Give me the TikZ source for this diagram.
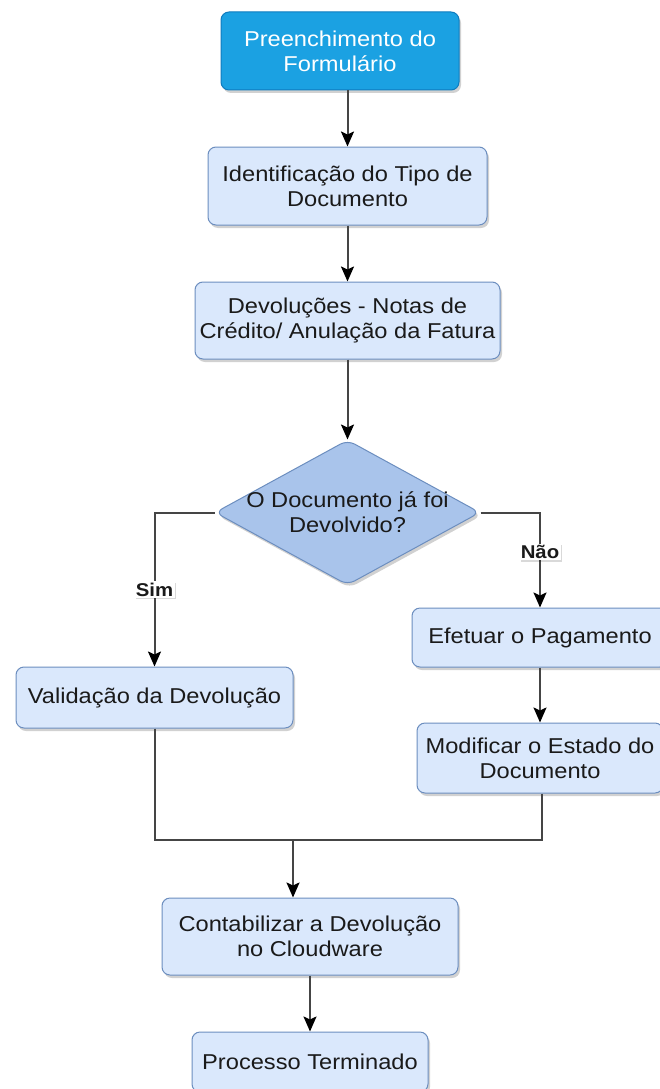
\documentclass[tikz,border=0pt]{standalone}
\usepackage{fontspec}
\setmainfont{Liberation Sans}[FakeStretch=1.1]
\usetikzlibrary{arrows.meta,shapes.geometric,shadows}
\definecolor{startfill}{HTML}{1BA1E2}
\definecolor{startdraw}{HTML}{0F7CBF}
\definecolor{boxfill}{HTML}{DAE8FC}
\definecolor{boxdraw}{HTML}{6C8EBF}
\definecolor{decfill}{HTML}{A9C4EB}
\definecolor{ink}{HTML}{1A1A1A}
\definecolor{wire}{HTML}{454545}
\begin{document}
\begin{tikzpicture}[x=1pt,y=-1pt,
  every node/.style={font=\fontsize{21.5}{25}\selectfont, text=ink},
  boxshadow/.style={drop shadow={shadow xshift=2pt,shadow yshift=-3pt,opacity=0.18,fill=black}},
  procbox/.style={draw=boxdraw, fill=boxfill, line width=1pt, rounded corners=8pt,
    align=center, inner sep=0pt, boxshadow},
  startbox/.style={procbox, draw=startdraw, fill=startfill, text=white},
  decision/.style={diamond, draw=boxdraw, fill=decfill, line width=1pt, rounded corners=8pt,
    inner sep=0pt, boxshadow},
  flow/.style={draw=wire, line width=2pt, -{Stealth[length=15pt,width=13pt,inset=3pt,color=black]}},
  link/.style={draw=wire, line width=2pt},
  branchlabel/.style={fill=white, inner sep=1.5pt, font=\fontsize{18.5}{20}\bfseries\selectfont,
    drop shadow={shadow xshift=1.5pt,shadow yshift=-1.5pt,opacity=0.15,fill=black}}
]
\useasboundingbox (0,0) rectangle (659,1089);
\fill[white] (0,0) rectangle (659,1089);

% process steps
\node[startbox, minimum width=238pt, minimum height=78pt] (pre) at (340,51) {Preenchimento do\\Formulário};
\node[procbox, minimum width=279pt, minimum height=78pt] (ident) at (347.5,186) {Identificação do Tipo de\\Documento};
\node[procbox, minimum width=305pt, minimum height=77pt] (dev) at (347.5,320.5) {Devoluções - Notas de\\Crédito/ Anulação da Fatura};
\node[decision, minimum width=265pt, minimum height=145pt] (dia) at (347.5,512.5) {};
\node[align=center] (diatext) at (dia.center) {O Documento já foi\\Devolvido?};
\node[procbox, minimum width=277pt, minimum height=61pt] (vali) at (154.5,697.5) {Validação da Devolução};
\node[procbox, minimum width=256pt, minimum height=59pt] (efe) at (540,637.5) {Efetuar o Pagamento};
\node[procbox, minimum width=246pt, minimum height=70pt] (mod) at (540,758) {Modificar o Estado do\\Documento};
\node[procbox, minimum width=296pt, minimum height=77pt] (cont) at (310,936.5) {Contabilizar a Devolução\\no Cloudware};
\node[procbox, minimum width=236pt, minimum height=60pt] (proc) at (310,1062) {Processo Terminado};

\coordinate (merge) at (293,840);

% connectors
\draw[flow] (ident.north |- pre.south) -- (ident.north);
\draw[flow] (ident.south) -- (dev.north);
\draw[flow] (dev.south) -- (dia.north);
\draw[flow] (dia.west) -| (vali.north) node[branchlabel, pos=0.75] {Sim};
\draw[flow] (dia.east) -| (efe.north) node[branchlabel, pos=0.707] {Não};
\draw[flow] (efe.south) -- (mod.north);
\draw[link] (vali.south) |- (merge);
\draw[link] (mod.south -| 542,0) |- (merge);
\draw[flow] (merge) -- (merge |- cont.north);
\draw[flow] (cont.south) -- (proc.north);
\end{tikzpicture}
\end{document}
